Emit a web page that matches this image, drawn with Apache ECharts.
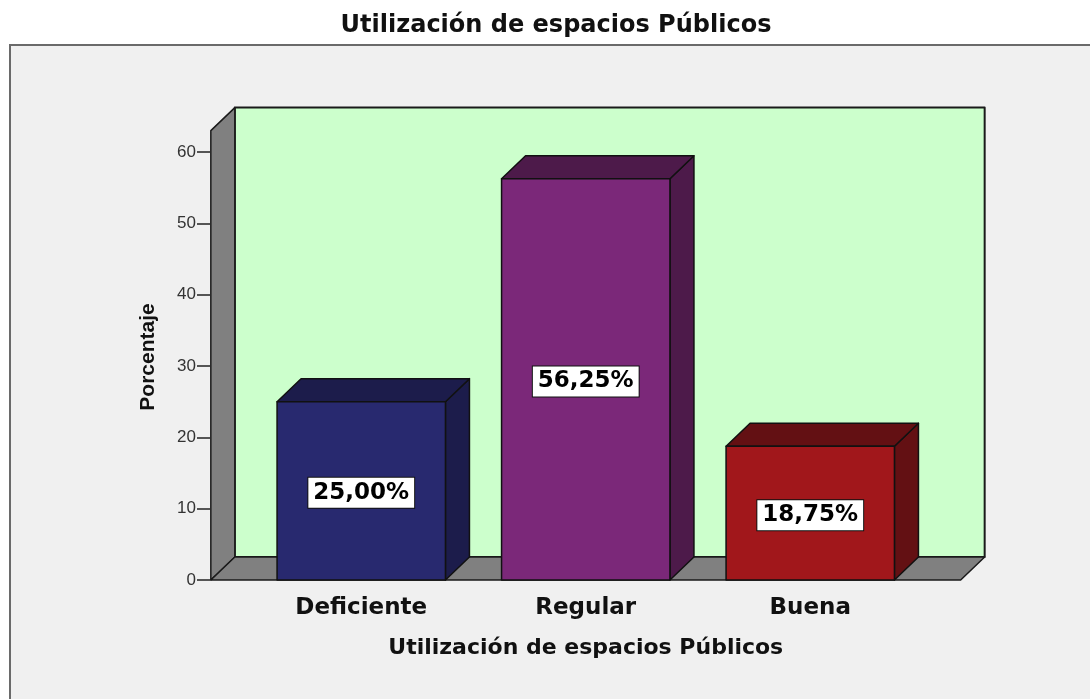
<!DOCTYPE html>
<html>
<head>
<meta charset="UTF-8">
<title>Utilización de espacios Públicos</title>
<script src="https://cdn.jsdelivr.net/npm/echarts@6/dist/echarts.min.js"></script>
<style>
  html, body { margin: 0; padding: 0; background: #fff; }
  #main { width: 1090px; height: 699px; }
</style>
</head>
<body>
<div id="main"></div>
<script>
  // data
  const categories = ['Deficiente', 'Regular', 'Buena'];
  const percentages = [25.00, 56.25, 18.75];
  const yMax = 60;
  const yInterval = 10;
  const wallTop = 63; // top of the 3D walls, in axis units

  // styles
  const frontColors = ['#28296f', '#7b2879', '#a1171b'];
  const shadeColors = ['#1c1c4b', '#4d1a4a', '#631013'];
  const depthX = 24, depthY = 23;
  const boldFont = '"DejaVu Sans", Verdana, sans-serif';

  function fmt(v) {
    return v.toFixed(2).replace('.', ',') + '%';
  }

  const chart = echarts.init(document.getElementById('main'), null, { renderer: 'canvas' });

  chart.setOption({
    animation: false,
    backgroundColor: '#ffffff',
    graphic: [{
      type: 'rect',
      z: -10,
      shape: { x: 10, y: 45, width: 1110, height: 700 },
      style: { fill: '#f0f0f0', stroke: '#6a6a6a', lineWidth: 2 }
    }],
    title: {
      text: 'Utilización de espacios Públicos',
      left: 556,
      textAlign: 'center',
      top: 14,
      padding: 0,
      textStyle: { fontFamily: boldFont, fontWeight: 'bold', fontSize: 24, color: '#111' }
    },
    grid: { left: 249, right: 167.5, top: 152, bottom: 119 },
    xAxis: {
      type: 'category',
      data: categories,
      axisLine: { show: false },
      axisTick: { show: false },
      axisLabel: {
        margin: 17,
        fontFamily: boldFont, fontWeight: 'bold', fontSize: 23, color: '#111'
      },
      name: 'Utilización de espacios Públicos',
      nameLocation: 'middle',
      nameGap: 57,
      nameTextStyle: { fontFamily: boldFont, fontWeight: 'bold', fontSize: 22, color: '#111' }
    },
    yAxis: {
      type: 'value',
      min: 0,
      max: yMax,
      interval: yInterval,
      offset: 39,
      axisLine: { show: false },
      axisTick: { show: true, length: 13, lineStyle: { color: '#222', width: 1.5 } },
      splitLine: { show: false },
      axisLabel: {
        margin: 14,
        fontFamily: '"Liberation Sans", Arial, sans-serif', fontSize: 17, color: '#333'
      },
      name: 'Porcentaje',
      nameLocation: 'middle',
      nameRotate: 90,
      nameGap: 51,
      nameTextStyle: {
        fontFamily: '"Liberation Sans", Arial, sans-serif', fontWeight: 'bold', fontSize: 21, color: '#111',
        padding: [0, 0, 0, 18]
      }
    },
    series: [{
      // walls and floor of the 3D box
      type: 'custom',
      z: 1,
      silent: true,
      data: [0],
      renderItem: function (params, api) {
        const cs = params.coordSys;
        const band = api.size([1, 0])[0];
        const ext = band * 0.17;
        const x0 = cs.x - ext;
        const x1 = cs.x + cs.width + ext;
        const yb = api.coord([0, 0])[1];
        const yt = api.coord([0, wallTop])[1];
        const edge = { stroke: '#1a1a1a', lineWidth: 1.5, lineJoin: 'round' };
        return {
          type: 'group',
          children: [{
            type: 'rect',
            shape: { x: x0 + depthX, y: yt - depthY, width: x1 - x0, height: yb - yt },
            style: Object.assign({ fill: '#ccffcc' }, edge, { lineWidth: 2 })
          }, {
            type: 'polygon',
            shape: { points: [[x0, yt], [x0 + depthX, yt - depthY], [x0 + depthX, yb - depthY], [x0, yb]] },
            style: Object.assign({ fill: '#808080' }, edge)
          }, {
            type: 'polygon',
            shape: { points: [[x0, yb], [x0 + depthX, yb - depthY], [x1 + depthX, yb - depthY], [x1, yb]] },
            style: Object.assign({ fill: '#808080' }, edge)
          }]
        };
      }
    }, {
      // 3D bars
      type: 'custom',
      z: 2,
      data: percentages.map((v, i) => [i, v]),
      encode: { x: 0, y: 1 },
      renderItem: function (params, api) {
        const i = api.value(0);
        const v = api.value(1);
        const top = api.coord([i, v]);
        const base = api.coord([i, 0]);
        const w = api.size([1, 0])[0] * 0.75;
        const l = top[0] - w / 2, r = top[0] + w / 2;
        const yt = top[1], yb = base[1];
        const edge = { stroke: '#111', lineWidth: 1.5, lineJoin: 'round' };
        return {
          type: 'group',
          children: [{
            type: 'polygon',
            shape: { points: [[r, yt], [r + depthX, yt - depthY], [r + depthX, yb - depthY], [r, yb]] },
            style: Object.assign({ fill: shadeColors[i] }, edge)
          }, {
            type: 'polygon',
            shape: { points: [[l, yt], [l + depthX, yt - depthY], [r + depthX, yt - depthY], [r, yt]] },
            style: Object.assign({ fill: shadeColors[i] }, edge)
          }, {
            type: 'rect',
            shape: { x: l, y: yt, width: w, height: yb - yt },
            style: Object.assign({ fill: frontColors[i] }, edge)
          }, {
            type: 'text',
            x: top[0],
            y: (yt + yb) / 2 + 2,
            style: {
              text: fmt(v),
              align: 'center',
              verticalAlign: 'middle',
              fontFamily: boldFont,
              fontWeight: 'bold',
              fontSize: 23,
              fill: '#000',
              backgroundColor: '#ffffff',
              borderColor: '#111',
              borderWidth: 1,
              padding: [4, 5, 3, 5]
            }
          }]
        };
      }
    }]
  });
</script>
</body>
</html>
